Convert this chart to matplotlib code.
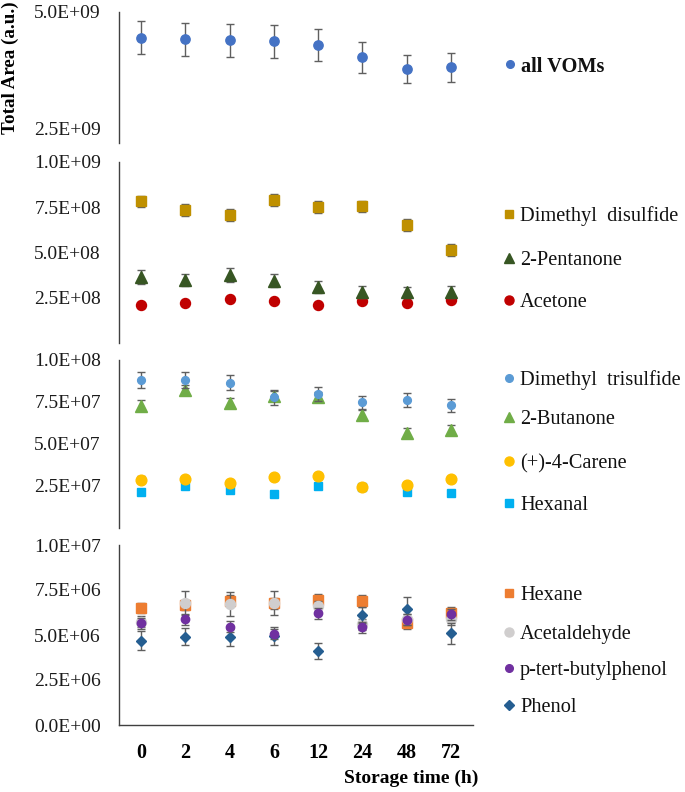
import matplotlib
matplotlib.use("Agg")
import matplotlib.pyplot as plt
from matplotlib.lines import Line2D
from matplotlib.ticker import FuncFormatter
import numpy as np

plt.rcParams['font.family'] = ['Liberation Serif', 'DejaVu Serif']

# ---------------- data ----------------
storage_time = ["0", "2", "4", "6", "12", "24", "48", "72"]

# panel 1
all_voms = [4.45e9, 4.41e9, 4.39e9, 4.37e9, 4.28e9, 4.02e9, 3.78e9, 3.81e9]
all_voms_err = [0.35e9, 0.35e9, 0.355e9, 0.355e9, 0.345e9, 0.33e9, 0.30e9, 0.31e9]

# panel 2
dimethyl_disulfide = [7.82e8, 7.36e8, 7.07e8, 7.88e8, 7.52e8, 7.55e8, 6.50e8, 5.15e8]
dimethyl_disulfide_err = [3.1e7, 3.4e7, 3.4e7, 3.3e7, 3.2e7, 3.2e7, 3.3e7, 3.2e7]
pentanone = [3.66e8, 3.48e8, 3.77e8, 3.45e8, 3.09e8, 2.83e8, 2.80e8, 2.83e8]
pentanone_err = [3.9e7, 3.5e7, 4.0e7, 3.5e7, 3.5e7, 3.3e7, 3.2e7, 3.3e7]
acetone = [2.10e8, 2.19e8, 2.41e8, 2.30e8, 2.10e8, 2.32e8, 2.21e8, 2.39e8]
acetone_err = [8e6, 8e6, 8e6, 8e6, 8e6, 8e6, 8e6, 8e6]

# panel 3
dimethyl_trisulfide = [8.81e7, 8.82e7, 8.65e7, 7.78e7, 7.97e7, 7.48e7, 7.63e7, 7.30e7]
dimethyl_trisulfide_err = [4.6e6, 4.6e6, 4.4e6, 4.4e6, 4.0e6, 3.9e6, 4.0e6, 3.9e6]
butanone = [7.29e7, 8.24e7, 7.45e7, 7.84e7, 7.78e7, 6.71e7, 5.67e7, 5.84e7]
butanone_err = [3.0e6, 3.0e6, 3.0e6, 3.0e6, 3.0e6, 3.0e6, 3.0e6, 3.0e6]
carene = [2.87e7, 2.92e7, 2.68e7, 3.03e7, 3.09e7, 2.46e7, 2.56e7, 2.92e7]
carene_err = [2.0e6, 2.0e6, 2.0e6, 2.0e6, 2.0e6, 1.5e6, 1.5e6, 2.0e6]
hexanal = [2.12e7, 2.48e7, 2.26e7, 2.04e7, 2.48e7, 2.46e7, 2.12e7, 2.08e7]
hexanal_err = [1.0e6, 1.0e6, 1.0e6, 1.0e6, 1.0e6, 1.0e6, 1.0e6, 1.0e6]

# panel 4
hexane = [6.50e6, 6.67e6, 6.91e6, 6.77e6, 6.95e6, 6.91e6, 5.65e6, 6.25e6]
hexane_err = [3.0e5, 3.0e5, 3.0e5, 3.0e5, 3.3e5, 3.3e5, 3.0e5, 3.0e5]
acetaldehyde = [5.74e6, 6.80e6, 6.73e6, 6.77e6, 6.60e6, 5.60e6, 5.88e6, 5.88e6]
acetaldehyde_err = [3.0e5, 6.7e5, 6.5e5, 6.5e5, 3.0e5, 3.0e5, 3.0e5, 3.0e5]
ptbp = [5.65e6, 5.88e6, 5.47e6, 5.06e6, 6.20e6, 5.43e6, 5.84e6, 6.15e6]
ptbp_err = [3.0e5, 3.0e5, 3.0e5, 3.0e5, 3.0e5, 3.0e5, 3.0e5, 3.0e5]
phenol = [4.69e6, 4.91e6, 4.88e6, 4.95e6, 4.13e6, 6.12e6, 6.43e6, 5.10e6]
phenol_err = [5.3e5, 4.6e5, 4.8e5, 5.0e5, 4.4e5, 4.5e5, 6.7e5, 5.8e5]

# ---------------- figure ----------------
W, H = 685, 792
fig = plt.figure(figsize=(W / 100, H / 100), dpi=100)

def frac_rect(top_px, bot_px, left_px=119, right_px=473):
    return [left_px / W, 1 - bot_px / H, (right_px - left_px) / W, (bot_px - top_px) / H]

ax1 = fig.add_axes(frac_rect(12, 143))
ax2 = fig.add_axes(frac_rect(162, 343))
ax3 = fig.add_axes(frac_rect(360, 528))
ax4 = fig.add_axes(frac_rect(545, 725))

x = np.arange(len(storage_time))
ecol = '#5f5f5f'
spine_col = '#404040'
fmt = FuncFormatter(lambda v, p: f"{v:.1E}")

def series(ax, y, err, color, marker, ms, z):
    ax.errorbar(x, y, yerr=err, fmt=marker, color=color, ms=ms, mec=color,
                ecolor=ecol, elinewidth=1.0, capsize=3, capthick=1.0, zorder=z)

# panel 1
series(ax1, all_voms, all_voms_err, '#4472C4', 'o', 6.7, 3)
ax1.set_ylim(2.177e9, 5.0e9)
ax1.set_yticks([2.5e9, 5.0e9])

# panel 2
series(ax2, acetone, acetone_err, '#C00000', 'o', 7.2, 3)
series(ax2, pentanone, pentanone_err, '#375623', '^', 9, 4)
series(ax2, dimethyl_disulfide, dimethyl_disulfide_err, '#BF9000', 's', 6.5, 5)
ax2.set_ylim(0, 1.0e9)
ax2.set_yticks([2.5e8, 5.0e8, 7.5e8, 1.0e9])

# panel 3
series(ax3, hexanal, hexanal_err, '#00B0F0', 's', 6.0, 3)
series(ax3, carene, carene_err, '#FFC000', 'o', 7.7, 4)
series(ax3, butanone, butanone_err, '#70AD47', '^', 8.6, 5)
series(ax3, dimethyl_trisulfide, dimethyl_trisulfide_err, '#5B9BD5', 'o', 5.6, 6)
ax3.set_ylim(0, 1.0e8)
ax3.set_yticks([2.5e7, 5.0e7, 7.5e7, 1.0e8])

# panel 4
series(ax4, hexane, hexane_err, '#ED7D31', 's', 6.7, 3)
series(ax4, acetaldehyde, acetaldehyde_err, '#D0CECE', 'o', 7.2, 4)
series(ax4, phenol, phenol_err, '#255E91', 'D', 5.2, 5)
series(ax4, ptbp, ptbp_err, '#7030A0', 'o', 6.0, 6)
ax4.set_ylim(0, 1.0e7)
ax4.set_yticks([0, 2.5e6, 5.0e6, 7.5e6, 1.0e7])

for ax in (ax1, ax2, ax3, ax4):
    ax.set_xlim(-0.5, len(storage_time) - 0.5)
    ax.set_xticks(x)
    ax.yaxis.set_major_formatter(fmt)
    ax.tick_params(axis='y', length=0, pad=13, labelsize=14, colors='#1a1a1a')
    for s in ('top', 'right'):
        ax.spines[s].set_visible(False)
    ax.spines['left'].set_color(spine_col)
    ax.spines['left'].set_linewidth(1.0)
    ax.patch.set_alpha(0)

for ax in (ax1, ax2, ax3):
    ax.spines['bottom'].set_visible(False)
    ax.tick_params(axis='x', length=0, labelbottom=False)

ax4.spines['bottom'].set_color(spine_col)
ax4.spines['bottom'].set_linewidth(1.0)
ax4.set_xticklabels(storage_time, fontweight='bold', fontsize=14.5)
ax4.tick_params(axis='x', length=0, pad=13)

fig.text(478 / W, 1 - 778 / H, "Storage time (h)", ha='right', va='center',
         fontsize=14, fontweight='bold')
fig.text(10 / W, 1 - 68 / H, "Total Area (a.u.)", ha='center', va='center',
         rotation=90, fontsize=13.7, fontweight='bold')

# ---------------- legends ----------------
legend_entries = [
    ("all VOMs", '#4472C4', 'o', 5.5, 64, True),
    ("Dimethyl  disulfide", '#BF9000', 's', 5.5, 214, False),
    ("2-Pentanone", '#375623', '^', 7.5, 258, False),
    ("Acetone", '#C00000', 'o', 6.5, 300, False),
    ("Dimethyl  trisulfide", '#5B9BD5', 'o', 5.5, 378, False),
    ("2-Butanone", '#70AD47', '^', 7.5, 417, False),
    ("(+)-4-Carene", '#FFC000', 'o', 6.5, 461, False),
    ("Hexanal", '#00B0F0', 's', 5.5, 503, False),
    ("Hexane", '#ED7D31', 's', 6.0, 593, False),
    ("Acetaldehyde", '#D0CECE', 'o', 6.5, 632, False),
    ("p-tert-butylphenol", '#7030A0', 'o', 5.5, 668, False),
    ("Phenol", '#255E91', 'D', 4.6, 705, False),
]
for label, color, marker, ms, ypx, bold in legend_entries:
    xm = 510 if bold else 509
    fig.add_artist(Line2D([xm / W], [1 - ypx / H], marker=marker, color=color,
                          mec=color, ms=ms, linestyle='None',
                          transform=fig.transFigure))
    fig.text((xm + 11) / W, 1 - ypx / H, label, ha='left', va='center_baseline',
             fontsize=14.7, fontweight='bold' if bold else 'normal', color='#111111')

fig.savefig("out.png", dpi=100)
